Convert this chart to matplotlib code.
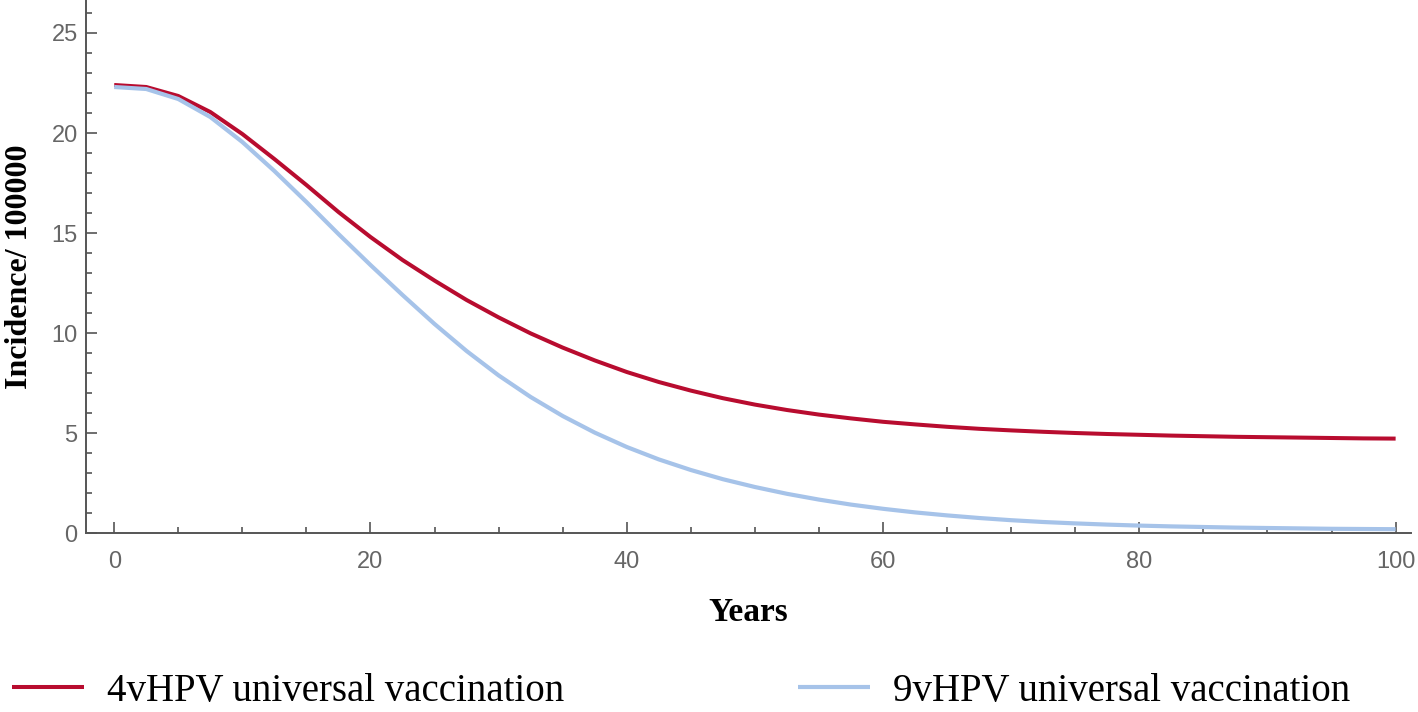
import matplotlib.pyplot as plt
from matplotlib.ticker import MultipleLocator

# Data (every 2.5 years)
years = [0, 2.5, 5, 7.5, 10, 12.5, 15, 17.5, 20, 22.5, 25, 27.5, 30, 32.5, 35, 37.5,
         40, 42.5, 45, 47.5, 50, 52.5, 55, 57.5, 60, 62.5, 65, 67.5, 70, 72.5,
         75, 77.5, 80, 82.5, 85, 87.5, 90, 92.5, 95, 97.5, 100]
inc_4v = [22.40, 22.30, 21.85, 21.05, 19.95, 18.70, 17.40, 16.05, 14.80, 13.65, 12.62,
          11.65, 10.78, 9.98, 9.27, 8.63, 8.05, 7.55, 7.12, 6.74, 6.42, 6.15, 5.92,
          5.73, 5.56, 5.43, 5.31, 5.21, 5.13, 5.06, 5.00, 4.95, 4.91, 4.87, 4.84,
          4.81, 4.79, 4.77, 4.75, 4.73, 4.72]
inc_9v = [22.30, 22.20, 21.70, 20.80, 19.55, 18.10, 16.55, 14.95, 13.40, 11.90, 10.45,
          9.10, 7.88, 6.80, 5.85, 5.02, 4.30, 3.68, 3.15, 2.69, 2.30, 1.96, 1.67,
          1.42, 1.21, 1.03, 0.88, 0.75, 0.64, 0.55, 0.48, 0.42, 0.37, 0.33, 0.30,
          0.27, 0.25, 0.23, 0.21, 0.20, 0.19]
labels = ['4vHPV universal vaccination', '9vHPV universal vaccination']

red = '#B80C2F'
blue = '#A6C3E9'
axis_grey = '#555555'

fig = plt.figure(figsize=(14.18, 7.12), dpi=100)
ax = fig.add_axes([86 / 1418, 179 / 712, 1325 / 1418, 533 / 712])

l1, = ax.plot(years, inc_4v, color=red, lw=2.9, solid_capstyle='butt', label=labels[0])
l2, = ax.plot(years, inc_9v, color=blue, lw=3.0, solid_capstyle='butt', label=labels[1])

ax.set_xlim(-2.2, 101.2)
ax.set_ylim(0, 26.65)

for s in ['top', 'right']:
    ax.spines[s].set_visible(False)
for s in ['left', 'bottom']:
    ax.spines[s].set_color(axis_grey)
    ax.spines[s].set_linewidth(1.4)

ax.xaxis.set_major_locator(MultipleLocator(20))
ax.xaxis.set_minor_locator(MultipleLocator(5))
ax.yaxis.set_major_locator(MultipleLocator(5))
ax.yaxis.set_minor_locator(MultipleLocator(1))

ax.tick_params(which='both', direction='in', color=axis_grey, width=1.2,
               labelcolor='#666666', labelsize=17)
ax.tick_params(which='major', length=8)
ax.tick_params(which='minor', length=4.3)
ax.tick_params(axis='x', which='major', pad=13)
ax.tick_params(axis='y', which='major', pad=6)
for t in ax.get_xticklabels() + ax.get_yticklabels():
    t.set_fontfamily('Liberation Sans')

ax.set_xlabel('Years', fontfamily='Liberation Serif', fontweight='bold', fontsize=24)
ax.xaxis.set_label_coords(0.5, -0.12)
ax.set_ylabel('Incidence/ 100000', fontfamily='Liberation Serif', fontweight='bold', fontsize=23)
ax.yaxis.set_label_coords(-0.039, 0.5)

# legend along the bottom edge
fig.legend(handles=[l1, l2], loc='lower left', bbox_to_anchor=(12 / 1418, 2 / 712),
           ncol=2, frameon=False, borderpad=0, borderaxespad=0,
           handlelength=1.85, handletextpad=0.6, columnspacing=6.0,
           prop={'family': 'Liberation Serif', 'size': 28})

fig.savefig('out.png', dpi=100)
